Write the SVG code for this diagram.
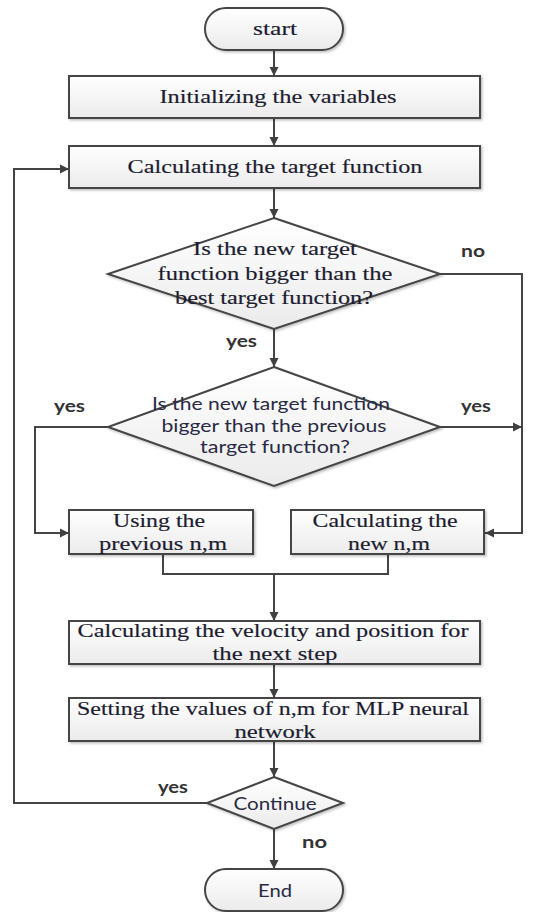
<svg xmlns="http://www.w3.org/2000/svg" width="542" height="912" viewBox="0 0 542 912">
<defs>
<linearGradient id="g" x1="0" y1="0" x2="0" y2="1">
<stop offset="0" stop-color="#ffffff"/><stop offset="1" stop-color="#ebebeb"/>
</linearGradient>
<marker id="ah" markerUnits="userSpaceOnUse" markerWidth="10" markerHeight="10" refX="9" refY="5" orient="auto">
<path d="M0,0.5 L9,5 L0,9.5 Z" fill="#404040"/>
</marker>
<filter id="sh" x="-5%" y="-5%" width="110%" height="120%">
<feDropShadow dx="1.5" dy="1.5" stdDeviation="1" flood-color="#000" flood-opacity="0.25"/>
</filter>
</defs>
<style>
.sh{fill:url(#g);stroke:#444;stroke-width:2;filter:url(#sh)}
.c{fill:none;stroke:#444;stroke-width:2}
.a{marker-end:url(#ah)}
.sf{font-family:"Liberation Serif","Times New Roman",serif;font-size:18px;fill:#1c1c30;text-anchor:middle;stroke:#1c1c30;stroke-width:0.15}
.ss{font-family:Lato,"Liberation Sans",sans-serif;font-size:17px;fill:#2a2a44;text-anchor:middle}
.lb{font-family:Lato,"Liberation Sans",sans-serif;font-size:17px;font-weight:bold;fill:#333;}
</style>
<rect width="542" height="912" fill="#fff"/>
<g id="connectors">
<line class="c a" x1="274" y1="50" x2="274" y2="76"/>
<line class="c a" x1="274" y1="118" x2="274" y2="146"/>
<line class="c a" x1="274" y1="188" x2="274" y2="218"/>
<line class="c a" x1="274" y1="329" x2="274" y2="367"/>
<polyline class="c a" points="440,274 522,274 522,533 485,533"/>
<line class="c a" x1="440" y1="427" x2="522" y2="427"/>
<polyline class="c a" points="108,427 35,427 35,533 69,533"/>
<polyline class="c" points="163,554 163,574 388,574 388,554"/>
<line class="c a" x1="274" y1="574" x2="274" y2="621"/>
<line class="c a" x1="274" y1="664" x2="274" y2="698"/>
<line class="c a" x1="274" y1="741" x2="274" y2="777"/>
<polyline class="c a" points="207,803 14,803 14,169 69,169"/>
<line class="c a" x1="274" y1="829" x2="274" y2="869"/>
<text class="lb" x="461" y="257" textLength="24" lengthAdjust="spacingAndGlyphs">no</text>
<text class="lb" x="226" y="347" textLength="31" lengthAdjust="spacingAndGlyphs">yes</text>
<text class="lb" x="54" y="412" textLength="31" lengthAdjust="spacingAndGlyphs">yes</text>
<text class="lb" x="461" y="412" textLength="30" lengthAdjust="spacingAndGlyphs">yes</text>
<text class="lb" x="158" y="793" textLength="30" lengthAdjust="spacingAndGlyphs">yes</text>
<text class="lb" x="302" y="848" textLength="25" lengthAdjust="spacingAndGlyphs">no</text>
</g>
<g id="start">
<rect class="sh" x="205" y="8" width="138" height="42" rx="21"/>
<text class="sf" x="275" y="35" textLength="44" lengthAdjust="spacingAndGlyphs">start</text>
</g>
<g id="init">
<rect class="sh" x="69" y="76" width="411" height="42"/>
<text class="sf" x="278" y="103" textLength="237" lengthAdjust="spacingAndGlyphs">Initializing the variables</text>
</g>
<g id="calc">
<rect class="sh" x="69" y="146" width="411" height="42"/>
<text class="sf" x="275" y="173" textLength="295" lengthAdjust="spacingAndGlyphs">Calculating the target function</text>
</g>
<g id="d1">
<polygon class="sh" points="274,218 440,274 274,329 108,274"/>
<text class="sf" x="275" y="255" textLength="164" lengthAdjust="spacingAndGlyphs">Is the new target</text>
<text class="sf" x="275" y="280" textLength="235" lengthAdjust="spacingAndGlyphs">function bigger than the</text>
<text class="sf" x="274" y="304" textLength="198" lengthAdjust="spacingAndGlyphs">best target function?</text>
</g>
<g id="d2">
<polygon class="sh" points="274,367 440,427 274,486 108,427"/>
<text class="ss" x="271" y="410" textLength="238" lengthAdjust="spacingAndGlyphs">Is the new target function</text>
<text class="ss" x="274" y="432" textLength="225" lengthAdjust="spacingAndGlyphs">bigger than the previous</text>
<text class="ss" x="275" y="453" textLength="150" lengthAdjust="spacingAndGlyphs">target function?</text>
</g>
<g id="useprev">
<rect class="sh" x="69" y="510" width="184" height="44"/>
<text class="sf" x="159" y="527" textLength="92" lengthAdjust="spacingAndGlyphs">Using the</text>
<text class="sf" x="163" y="550" textLength="128" lengthAdjust="spacingAndGlyphs">previous n,m</text>
</g>
<g id="calcnew">
<rect class="sh" x="291" y="510" width="193" height="44"/>
<text class="sf" x="385" y="527" textLength="145" lengthAdjust="spacingAndGlyphs">Calculating the</text>
<text class="sf" x="389" y="550" textLength="82" lengthAdjust="spacingAndGlyphs">new n,m</text>
</g>
<g id="velocity">
<rect class="sh" x="69" y="621" width="411" height="43"/>
<text class="sf" x="273" y="637" textLength="391" lengthAdjust="spacingAndGlyphs">Calculating the velocity and position for</text>
<text class="sf" x="275" y="660" textLength="125" lengthAdjust="spacingAndGlyphs">the next step</text>
</g>
<g id="setting">
<rect class="sh" x="69" y="698" width="411" height="43"/>
<text class="sf" x="273" y="715" textLength="392" lengthAdjust="spacingAndGlyphs">Setting the values of n,m for MLP neural</text>
<text class="sf" x="275" y="738" textLength="81" lengthAdjust="spacingAndGlyphs">network</text>
</g>
<g id="continue">
<polygon class="sh" points="274,777 343,803 274,829 207,803"/>
<text class="ss" x="275" y="810" textLength="83" lengthAdjust="spacingAndGlyphs">Continue</text>
</g>
<g id="end">
<rect class="sh" x="205" y="869" width="138" height="42" rx="21"/>
<text class="ss" x="275" y="897" textLength="34" lengthAdjust="spacingAndGlyphs">End</text>
</g>
</svg>
